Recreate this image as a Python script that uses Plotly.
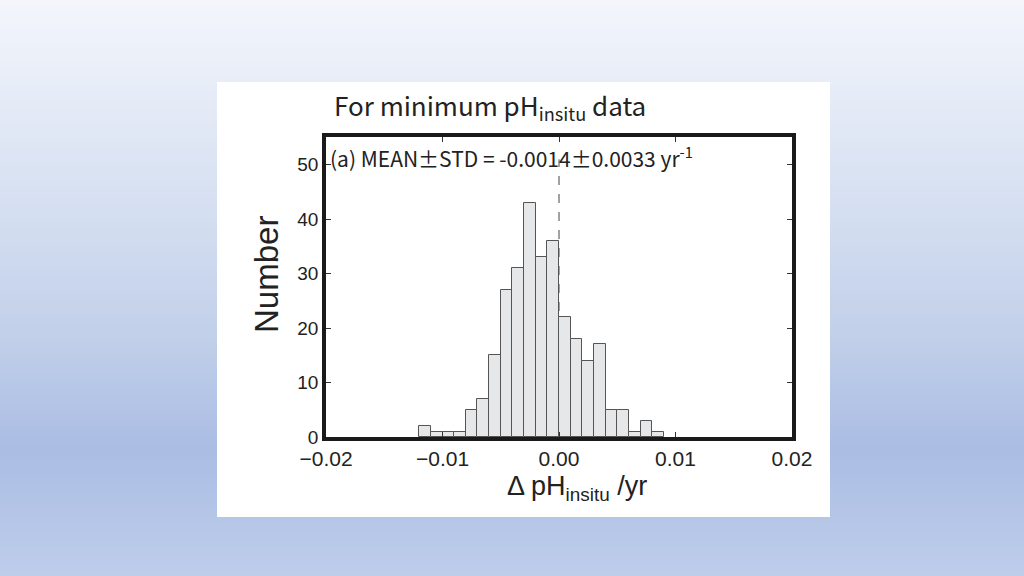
import plotly.graph_objects as go

# ---- data ----
bin_left = [-0.012, -0.011, -0.010, -0.009, -0.008, -0.007, -0.006, -0.005, -0.004, -0.003, -0.002,
            -0.001, 0.000, 0.001, 0.002, 0.003, 0.004, 0.005, 0.006, 0.007, 0.008]
counts = [2, 1, 1, 1, 5, 7, 15, 27, 31, 43, 33, 36, 22, 18, 14, 17, 5, 5, 1, 3, 1]
bin_width = 0.001
x_ticks = [-0.02, -0.01, 0.0, 0.01, 0.02]
x_tick_labels = ["\u22120.02", "\u22120.01", "0.00", "0.01", "0.02"]
y_ticks = [0, 10, 20, 30, 40, 50]

# ---- layout geometry (pixels) ----
W, H = 1024, 576
L, R, T, B = 326, 792, 137, 437
pw, ph = R - L, B - T

def px(x):
    return (x - L) / pw

def py(y):
    return (B - y) / ph

fig = go.Figure()
fig.add_trace(go.Bar(
    x=[b + bin_width / 2 for b in bin_left], y=counts, width=bin_width,
    marker=dict(color="#e6e7e9", line=dict(color="#555555", width=1)),
    showlegend=False, hoverinfo="skip"))

shapes = []
# gradient background
stops = [(0.0, (244, 246, 252)), (0.35, (214, 224, 241)), (0.6, (192, 206, 233)),
         (0.78, (170, 189, 227)), (1.0, (190, 205, 234))]

def col(t):
    for (t0, c0), (t1, c1) in zip(stops[:-1], stops[1:]):
        if t0 <= t <= t1:
            f = (t - t0) / (t1 - t0)
            return "rgb(%d,%d,%d)" % tuple(round(a + (b - a) * f) for a, b in zip(c0, c1))
    return "rgb(%d,%d,%d)" % stops[-1][1]

N = 96
for i in range(N):
    y0 = H * i / N
    y1 = H * (i + 1) / N + 1
    shapes.append(dict(type="rect", xref="paper", yref="paper", layer="below",
                       x0=px(0), x1=px(W), y0=py(y1), y1=py(y0),
                       fillcolor=col((i + 0.5) / N), line=dict(width=0)))
# white panel
shapes.append(dict(type="rect", xref="paper", yref="paper", layer="below",
                   x0=px(217), x1=px(830), y0=py(517), y1=py(82),
                   fillcolor="white", line=dict(width=0)))
# dashed line at zero
shapes.append(dict(type="line", xref="x", yref="y", layer="below",
                   x0=0, x1=0, y0=0, y1=51,
                   line=dict(color="#444444", width=1, dash="dash")))

annotations = [
    dict(text="For minimum pH<sub>insitu</sub> data", xref="paper", yref="paper",
         x=px(332), y=py(106), xanchor="left", yanchor="middle", showarrow=False,
         font=dict(family="Noto Sans CJK JP", size=26, color="#222222")),
    dict(text="(a) MEAN\u00b1STD = -0.0014\u00b10.0033 yr<sup>-1</sup>", xref="paper", yref="paper",
         x=px(328), y=py(157), xanchor="left", yanchor="middle", showarrow=False,
         font=dict(family="Noto Sans CJK JP", size=21, color="#222222")),
    dict(text="Number", xref="paper", yref="paper", textangle=-90,
         x=px(266), y=py(275), xanchor="center", yanchor="middle", showarrow=False,
         font=dict(family="Liberation Sans", size=33, color="#222222")),
    dict(text="\u0394 pH<sub>insitu</sub> /yr", xref="paper", yref="paper",
         x=px(577), y=py(488), xanchor="center", yanchor="middle", showarrow=False,
         font=dict(family="Liberation Sans", size=27, color="#222222")),
]

axis_common = dict(showline=True, linecolor="#1a1a1a", linewidth=3.5, mirror="ticks",
                   ticks="inside", ticklen=5, tickcolor="#333333", tickwidth=1,
                   showgrid=False, zeroline=False)

fig.update_layout(
    width=W, height=H,
    margin=dict(l=L, r=W - R, t=T, b=H - B, pad=0),
    paper_bgcolor="white", plot_bgcolor="rgba(0,0,0,0)",
    bargap=0,
    xaxis=dict(range=[-0.02, 0.02], tickvals=x_ticks, ticktext=x_tick_labels,
               tickfont=dict(family="Liberation Sans", size=21, color="#222222"), **axis_common),
    yaxis=dict(range=[0, 55.1], tickvals=y_ticks,
               tickfont=dict(family="Liberation Sans", size=19, color="#222222"), **axis_common),
    shapes=shapes, annotations=annotations,
)
fig.write_html("out.html")
